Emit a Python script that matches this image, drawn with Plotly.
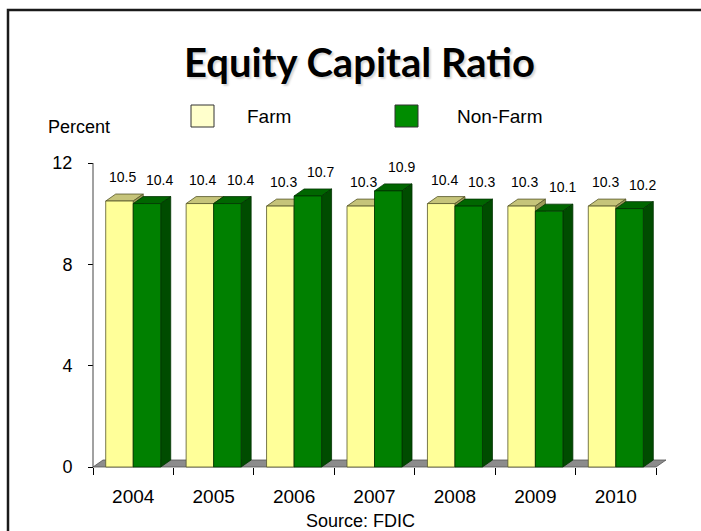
import plotly.graph_objects as go

# ---- data -------------------------------------------------------------
years = ["2004", "2005", "2006", "2007", "2008", "2009", "2010"]
farm = [10.5, 10.4, 10.3, 10.3, 10.4, 10.3, 10.3]
non_farm = [10.4, 10.4, 10.7, 10.9, 10.3, 10.1, 10.2]
y_ticks = [0, 4, 8, 12]

# ---- geometry (pixel frame of the page) --------------------------------
W, H = 701, 531
X0_PX, CAT_PX = 93.0, 80.43      # left edge of first category, category width
Y0_PX, UNIT_PX = 467.0, 25.33    # baseline, pixels per percent
BAR_W = 0.342                    # bar width in category units
DX = 10.0 / CAT_PX               # 3D depth offset (x, data units)
DY = 7.0 / UNIT_PX               # 3D depth offset (y, data units)

FONT = "Liberation Sans, Arial, sans-serif"


def px(x):
    return x / W


def py(y):
    return 1 - y / H


def faces(values, offset):
    """Front, top and side polygons of extruded columns."""
    fx, fy, tx, ty, sx, sy = [], [], [], [], [], []
    for i, v in enumerate(values):
        x0 = i + 0.5 + offset
        x1 = x0 + BAR_W
        fx += [x0, x1, x1, x0, x0, None]
        fy += [0, 0, v, v, 0, None]
        tx += [x0, x1, x1 + DX, x0 + DX, x0, None]
        ty += [v, v, v + DY, v + DY, v, None]
        sx += [x1, x1 + DX, x1 + DX, x1, x1, None]
        sy += [0, DY, v + DY, v, 0, None]
    return (fx, fy), (tx, ty), (sx, sy)


def poly(xy, fill, edge):
    return go.Scatter(
        x=xy[0], y=xy[1], mode="lines", fill="toself",
        fillcolor=fill, line=dict(color=edge, width=0.8),
        hoverinfo="skip", showlegend=False,
    )


fig = go.Figure()

n = len(years)
# floor of the 3D plot area
fig.add_trace(poly(([0, n, n + DX, DX, 0], [0, 0, DY, DY, 0]), "#8c8c8c", "#555555"))

series = [
    (farm, -BAR_W, "#ffff99", "#c6c47a", "#9c9a58", "#55552a"),
    (non_farm, 0.0, "#008000", "#006600", "#004c00", "#003300"),
]
for vals, off, c_front, c_top, c_side, c_edge in series:
    front, top, side = faces(vals, off)
    fig.add_trace(poly(top, c_top, c_edge))
    fig.add_trace(poly(side, c_side, c_edge))
    fig.add_trace(poly(front, c_front, c_edge))

# value labels above each column
for i in range(n):
    for vals, off, dx_px in ((farm, -BAR_W / 2, 3), (non_farm, BAR_W / 2, 13)):
        fig.add_annotation(
            x=i + 0.5 + off, y=vals[i], text=f"{vals[i]:.1f}",
            showarrow=False, xshift=dx_px, yshift=24,
            font=dict(family=FONT, size=14, color="#000000"),
        )

# vertical axis line
fig.add_shape(type="line", xref="x", yref="y", x0=0, x1=0, y0=0, y1=max(y_ticks),
              line=dict(color="#444444", width=1))

# legend swatches and labels
legend = [("Farm", "#ffffcc", 191, 245), ("Non-Farm", "#008c00", 395, 455)]
for name, color, bx, tx in legend:
    fig.add_shape(type="rect", xref="paper", yref="paper",
                  x0=px(bx), x1=px(bx + 23), y0=py(105), y1=py(127),
                  fillcolor=color, line=dict(color="#333333", width=1))
    fig.add_annotation(xref="paper", yref="paper", x=px(tx), y=py(116),
                       xanchor="left", yanchor="middle", text=name, showarrow=False,
                       font=dict(family=FONT, size=19, color="#000000"))

# title, axis caption, source
fig.add_annotation(xref="paper", yref="paper", x=px(359), y=py(62),
                   xanchor="center", yanchor="middle", showarrow=False,
                   text="<b>Equity Capital Ratio</b>",
                   font=dict(family="Lato, Carlito, Calibri, sans-serif", size=40,
                             color="#000000", shadow="2px 2px 2px #d6d6d6"))
fig.add_annotation(xref="paper", yref="paper", x=px(79), y=py(127),
                   xanchor="center", yanchor="middle", showarrow=False,
                   text="Percent", font=dict(family=FONT, size=18, color="#000000"))
fig.add_annotation(xref="paper", yref="paper", x=px(360), y=py(521),
                   xanchor="center", yanchor="middle", showarrow=False,
                   text="Source: FDIC", font=dict(family=FONT, size=18, color="#000000"))

# slide frame
fig.add_shape(type="rect", xref="paper", yref="paper",
              x0=px(8), x1=1.02, y0=py(10), y1=-0.02,
              line=dict(color="#1a1a1a", width=2.5), fillcolor="rgba(0,0,0,0)")

fig.update_layout(
    width=W, height=H,
    margin=dict(l=0, r=0, t=0, b=0),
    paper_bgcolor="white", plot_bgcolor="white",
    showlegend=False,
    xaxis=dict(
        domain=[0, 1],
        range=[-X0_PX / CAT_PX, (W - X0_PX) / CAT_PX],
        anchor="free", position=(H - Y0_PX) / H,
        tickmode="array", tickvals=[i + 0.5 for i in range(n)], ticktext=years,
        ticks="", showgrid=False, zeroline=False, showline=False,
        ticklabelstandoff=16,
        tickfont=dict(family=FONT, size=19, color="#000000"),
        minor=dict(tickmode="array", tickvals=list(range(n + 1)), ticks="outside",
                   ticklen=7, tickwidth=1, tickcolor="#000000", showgrid=False),
        fixedrange=True,
    ),
    yaxis=dict(
        domain=[0, 1],
        range=[-(H - Y0_PX) / UNIT_PX, Y0_PX / UNIT_PX],
        anchor="free", position=X0_PX / W,
        tickmode="array", tickvals=y_ticks,
        ticks="outside", ticklen=5, tickwidth=1, tickcolor="#000000",
        ticklabelstandoff=12,
        tickfont=dict(family=FONT, size=18, color="#000000"),
        showgrid=False, zeroline=False, showline=False,
        fixedrange=True,
    ),
)

fig.write_html("out.html")
